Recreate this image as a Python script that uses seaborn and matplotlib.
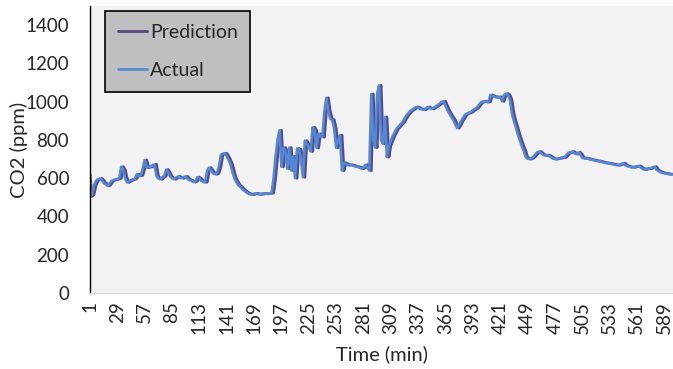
import numpy as np
import pandas as pd
import seaborn as sns
import matplotlib.pyplot as plt

# time axis: one reading every 2 minutes
minutes = list(range(1, 598, 2))

actual = [
    505, 515, 560, 585, 595, 598, 590, 575, 568, 560,
    572, 586, 590, 594, 596, 600, 660, 645, 600, 578,
    585, 590, 594, 598, 621, 612, 615, 650, 695, 655,
    658, 660, 668, 672, 612, 598, 595, 605, 612, 645,
    630, 609, 600, 595, 602, 609, 604, 600, 606, 609,
    596, 590, 586, 580, 585, 605, 598, 586, 580, 580,
    640, 655, 640, 625, 621, 626, 660, 722, 728, 730,
    715, 695, 670, 630, 597, 578, 562, 554, 542, 534,
    526, 520, 516, 514, 519, 520, 517, 516, 518, 520,
    519, 520, 521, 523, 600, 710, 800, 850, 660, 760,
    740, 650, 760, 640, 715, 600, 755, 750, 700, 605,
    796, 780, 760, 740, 866, 850, 758, 832, 820, 815,
    950, 1020, 950, 910, 905, 860, 760, 800, 825, 640,
    680, 675, 668, 670, 668, 665, 660, 660, 655, 650,
    656, 670, 655, 640, 1040, 800, 760, 1040, 1085, 800,
    780, 920, 710, 770, 795, 820, 840, 860, 870, 882,
    893, 910, 928, 940, 952, 958, 966, 972, 968, 962,
    960, 958, 966, 972, 965, 962, 968, 975, 982, 990,
    998, 1002, 978, 955, 937, 920, 905, 882, 862, 880,
    900, 915, 932, 938, 942, 946, 955, 962, 968, 982,
    995, 1000, 1002, 998, 1000, 1035, 1030, 1025, 1025, 1022,
    1025, 1002, 1035, 1042, 1035, 1010, 940, 900, 868, 830,
    800, 770, 745, 712, 702, 700, 705, 712, 725, 735,
    739, 730, 722, 719, 720, 717, 710, 702, 700, 702,
    704, 706, 708, 710, 722, 733, 735, 739, 730, 726,
    735, 725, 706, 705, 703, 702, 698, 696, 694, 691,
    690, 688, 685, 682, 680, 678, 676, 675, 672, 670,
    668, 670, 674, 678, 668, 663, 660, 658, 657, 660,
    662, 663, 655, 648, 645, 650, 650, 652, 656, 660,
    645, 637, 632, 628, 626, 624, 622, 621, 620,
]

# model output trails the measurement by one step
prediction = [
    620, 505, 515, 560, 585, 595, 598, 590, 575, 568,
    560, 572, 586, 590, 594, 596, 600, 660, 645, 600,
    578, 585, 590, 594, 598, 621, 612, 615, 650, 695,
    655, 658, 660, 668, 672, 612, 598, 595, 605, 612,
    645, 630, 609, 600, 595, 602, 609, 604, 600, 606,
    609, 596, 590, 586, 580, 585, 605, 598, 586, 580,
    580, 640, 655, 640, 625, 621, 626, 660, 722, 728,
    730, 715, 695, 670, 630, 597, 578, 562, 554, 542,
    534, 526, 520, 516, 514, 519, 520, 517, 516, 518,
    520, 519, 520, 521, 523, 600, 710, 800, 850, 660,
    760, 740, 650, 760, 640, 715, 600, 755, 750, 700,
    605, 796, 780, 760, 740, 866, 850, 758, 832, 820,
    815, 950, 1020, 950, 910, 905, 860, 760, 800, 825,
    640, 680, 675, 668, 670, 668, 665, 660, 660, 655,
    650, 656, 670, 655, 640, 1040, 800, 760, 1040, 1085,
    800, 780, 920, 710, 770, 795, 820, 840, 860, 870,
    882, 893, 910, 928, 940, 952, 958, 966, 972, 968,
    962, 960, 958, 966, 972, 965, 962, 968, 975, 982,
    990, 998, 1002, 978, 955, 937, 920, 905, 882, 862,
    880, 900, 915, 932, 938, 942, 946, 955, 962, 968,
    982, 995, 1000, 1002, 998, 1000, 1035, 1030, 1025, 1025,
    1022, 1025, 1002, 1035, 1042, 1035, 1010, 940, 900, 868,
    830, 800, 770, 745, 712, 702, 700, 705, 712, 725,
    735, 739, 730, 722, 719, 720, 717, 710, 702, 700,
    702, 704, 706, 708, 710, 722, 733, 735, 739, 730,
    726, 735, 725, 706, 705, 703, 702, 698, 696, 694,
    691, 690, 688, 685, 682, 680, 678, 676, 675, 672,
    670, 668, 670, 674, 678, 668, 663, 660, 658, 657,
    660, 662, 663, 655, 648, 645, 650, 650, 652, 656,
    660, 645, 637, 632, 628, 626, 624, 622, 621,
]

x_ticks = [1, 29, 57, 85, 113, 141, 169, 197, 225, 253, 281,
           309, 337, 365, 393, 421, 449, 477, 505, 533, 561, 589]
y_ticks = [0, 200, 400, 600, 800, 1000, 1200, 1400]

df = pd.DataFrame({"minute": minutes, "Actual": actual, "Prediction": prediction})

sns.set_style("white")
plt.rcParams['font.family'] = ['Lato', 'DejaVu Sans']

fig = plt.figure(figsize=(6.73, 3.69), dpi=100)
ax = fig.add_axes([90/673, 76/369, 583/673, 287/369])
ax.set_facecolor('#F2F2F2')

sns.lineplot(data=df, x="minute", y="Prediction", ax=ax, color='#5B4A80',
             linewidth=2.1, label="Prediction")
sns.lineplot(data=df, x="minute", y="Actual", ax=ax, color='#5288D6',
             linewidth=1.9, label="Actual")

ax.set_xlim(1, 598)
ax.set_ylim(0, 1500)
ax.set_xticks(x_ticks)
ax.set_xticklabels([str(t) for t in x_ticks], rotation=90, fontsize=13.5)
ax.set_yticks(y_ticks)
ax.set_yticklabels([str(t) for t in y_ticks], fontsize=13.5)
ax.tick_params(axis='x', length=0, pad=6)
ax.tick_params(axis='y', length=5, width=1, color='black', pad=10)

for s in ['top', 'right']:
    ax.spines[s].set_visible(False)
ax.spines['left'].set_color('black')
ax.spines['left'].set_linewidth(1)
ax.spines['bottom'].set_color('#D9D9D9')
ax.spines['bottom'].set_linewidth(1)

ax.set_xlabel("Time (min)", fontsize=14.5, labelpad=8)
ax.set_ylabel("CO2 (ppm)", fontsize=14.5, labelpad=-2)

leg = ax.legend(loc='upper left', bbox_to_anchor=(0.026, 0.983), frameon=True,
                fancybox=False, facecolor='#BFBFBF', edgecolor='black', framealpha=1,
                fontsize=14, labelspacing=1.1, handlelength=1.5, handletextpad=0.15,
                borderpad=0.65, borderaxespad=0)
leg.get_frame().set_linewidth(1.2)

fig.savefig("out.png", dpi=100)
